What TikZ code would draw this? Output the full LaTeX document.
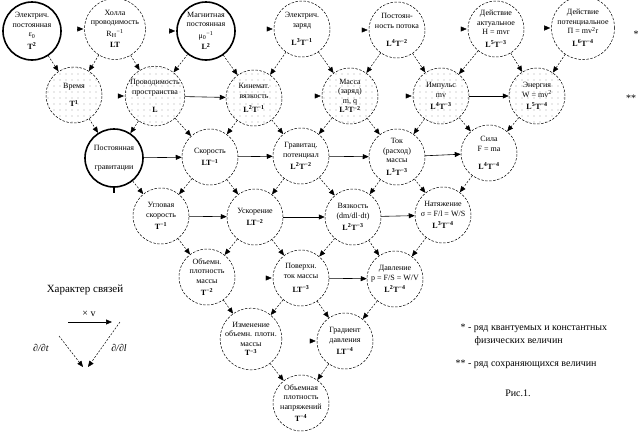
\documentclass[tikz,border=0pt]{standalone}
\usepackage{fontspec}
\setmainfont{Liberation Serif}
\usetikzlibrary{arrows.meta,patterns.meta}
\newcommand{\dimq}[2]{L\textsuperscript{#1}T\textsuperscript{#2}}

\begin{document}
\begin{tikzpicture}[x=1pt,y=-1pt,
  every node/.style={font=\fontsize{8}{9.5}\selectfont},
  qty/.style={draw,circle,dashed,dash pattern=on 2.5pt off 1.5pt,line width=0.5pt,
    minimum size=56pt,inner sep=0pt,align=center},
  kept/.style={qty,pattern={Dots[distance=6pt,radius=0.45pt]}},
  const/.style={qty,solid,line width=1.6pt,minimum size=58pt},
  link/.style={dashed,dash pattern=on 2pt off 1.5pt,line width=0.5pt,-{Triangle[length=6pt,width=5pt]}},
  mul/.style={line width=0.6pt,-{Triangle[length=6pt,width=5pt]}},
  tip/.style={-{Triangle[length=6pt,width=5pt]}},
  note/.style={font=\fontsize{10}{12}\selectfont}]
\useasboundingbox (0,0) rectangle (641,434);

% first row
\node[const] (a1) at (32,31) {Электрич.\\постоянная\\ε\textsubscript{0}\\[3pt]\textbf{T\textsuperscript{2}}};
\node[qty] (a2) at (115,29) {Холла\\проводимость\\[2pt]R\textsubscript{H}\textsuperscript{−1}\\[2pt]\textbf{LT}};
\node[const] (a3) at (206,31) {Магнитная\\постоянная\\[2pt]μ\textsubscript{0}\textsuperscript{−1}\\[2pt]\textbf{L\textsuperscript{2}}};
\node[qty] (a4) at (302,29) {Электрич.\\заряд\\[9pt]\textbf{\dimq{3}{−1}}};
\node[qty] (a5) at (397,30) {Постоян-\\ность потока\\[9pt]\textbf{\dimq{4}{−2}}};
\node[qty] (a6) at (496,29) {Действие\\актуальное\\H = mvr\\[3pt]\textbf{\dimq{5}{−3}}};
\node[qty] (a7) at (583,28) {Действие\\потенциальное\\П = mv\textsuperscript{2}r\\[3pt]\textbf{\dimq{6}{−4}}};

% second row
\node[kept] (b1) at (74,95) {Время\\[9pt]\textbf{T\textsuperscript{1}}};
\node[kept] (b2) at (155,96) {Проводимость\\пространства\\[9pt]\textbf{L}};
\node[kept] (b3) at (254,98) {Кинемат.\\вязкость\\[5pt]\textbf{\dimq{2}{−1}}};
\node[kept] (b4) at (350,96) {Масса\\(заряд)\\m, q\\\textbf{\dimq{3}{−2}}};
\node[kept] (b5) at (441,96) {Импульс\\mv\\[3pt]\textbf{\dimq{4}{−3}}};
\node[kept] (b6) at (537,96) {Энергия\\W = mv\textsuperscript{2}\\[3pt]\textbf{\dimq{5}{−4}}};

% third row
\node[const] (c1) at (114,158) {Постоянная\\[9pt]гравитации};
\node[qty] (c2) at (210,157) {Скорость\\[3pt]\textbf{LT\textsuperscript{−1}}};
\node[qty] (c3) at (301,156) {Гравитац.\\потенциал\\[3pt]\textbf{\dimq{2}{−2}}};
\node[qty] (c4) at (397,157) {Ток\\(расход)\\массы\\[3pt]\textbf{\dimq{3}{−3}}};
\node[qty] (c5) at (489,153) {Сила\\F = ma\\[9pt]\textbf{\dimq{4}{−4}}};

% fourth row
\node[qty] (d1) at (161,216) {Угловая\\скорость\\[3pt]\textbf{T\textsuperscript{−1}}};
\node[qty] (d2) at (255,217) {Ускорение\\[3pt]\textbf{LT\textsuperscript{−2}}};
\node[qty] (d3) at (353,217) {Вязкость\\(dm/dl·dt)\\[3pt]\textbf{\dimq{2}{−3}}};
\node[qty] (d4) at (443,215) {Натяжение\\σ = F/l = W/S\\[3pt]\textbf{\dimq{3}{−4}}};

% fifth row
\node[qty] (e1) at (207,277) {Объемн.\\плотность\\массы\\[3pt]\textbf{T\textsuperscript{−2}}};
\node[qty] (e2) at (301,278) {Поверхн.\\ток массы\\[5pt]\textbf{LT\textsuperscript{−3}}};
\node[qty] (e3) at (395,279) {Давление\\p = F/S = W/V\\[3pt]\textbf{\dimq{2}{−4}}};

% last rows
\node[qty] (f1) at (251,339) {Изменение\\объемн. плотн.\\массы\\\textbf{T\textsuperscript{−3}}};
\node[qty] (f2) at (345,341) {Градиент\\давления\\[3pt]\textbf{LT\textsuperscript{−4}}};
\node[qty] (g1) at (301,403) {Объемная\\плотность\\напряжений\\[3pt]\textbf{T\textsuperscript{−4}}};

\draw[line width=1.2pt] (c1.south) -- ++(0,5);

% derivatives
\foreach \s/\t in {a1/b1,a2/b1,a2/b2,a3/b2,a3/b3,a4/b3,a4/b4,a5/b4,a5/b5,a6/b5,a6/b6,a7/b6,
  b1/c1,b2/c1,b2/c2,b3/c2,b3/c3,b4/c3,b4/c4,b5/c4,b5/c5,b6/c5,
  c1/d1,c2/d1,c2/d2,c3/d2,c3/d3,c4/d3,c4/d4,c5/d4,
  d1/e1,d2/e1,d2/e2,d3/e2,d3/e3,d4/e3,
  e1/f1,e2/f1,e2/f2,e3/f2,f1/g1,f2/g1}
  \draw[link] (\s) -- (\t);

% times v
\foreach \s/\t in {b2/b3,b5/b6,c1/c2,c2/c3,c3/c4,c4/c5,d1/d2,d2/d3,d3/d4,e2/e3}
  \draw[mul] (\s) -- (\t);
\foreach \t in {a2,a3,a4,a5,a6,a7,b2,b4,b5,e2,f2}
  \draw[tip] ([xshift=-7pt]\t.west) -- ([xshift=-1pt]\t.west);

\node[note] at (636,34) {*};
\node[note] at (631,98) {**};

% legend
\node[font=\fontsize{11}{13}\selectfont] (legend) at (85,290) {Характер связей};
\coordinate (vs) at (68,322);
\coordinate (ve) at (112,322);
\coordinate (ls) at (59,336);
\coordinate (le) at (83,367);
\coordinate (rs) at (120,322);
\coordinate (re) at (88,367);
\draw[mul] (vs) -- (ve);
\node[note] (lv) at (89,314) {× v};
\draw[link] (ls) -- (le);
\draw[link] (rs) -- (re);
\node[note] (lt) at (41,348) {\textit{∂/∂t}};
\node[note] (ll) at (119,348) {\textit{∂/∂l}};

\node[note,anchor=west] (n1) at (457,328) {* - ряд квантуемых и константных};
\node[note,anchor=west] (n2) at (471,341) {физических величин};
\node[note,anchor=west] (n3) at (452,364) {** - ряд сохраняющихся величин};
\node[note] (fig) at (518,393) {Рис.1.};
\end{tikzpicture}
\end{document}
